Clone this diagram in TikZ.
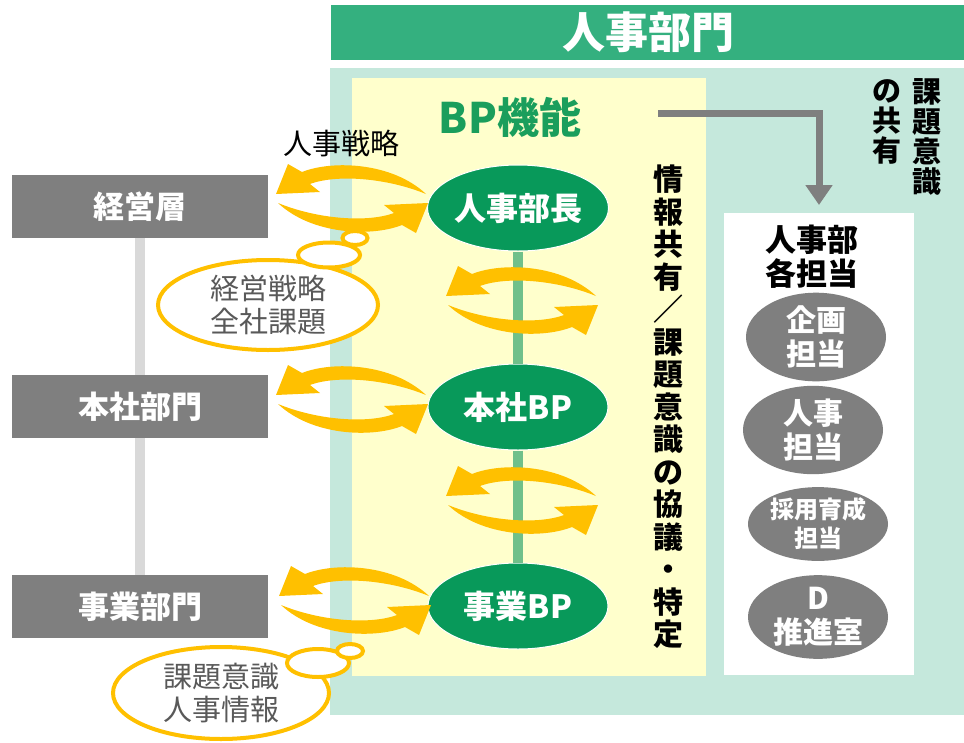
\documentclass[tikz,border=0pt]{standalone}
\usepackage{fontspec}
\setmainfont{Noto Sans CJK JP}
\usetikzlibrary{arrows.meta, positioning, shapes.geometric}
\definecolor{bannergreen}{RGB}{52,176,127}
\definecolor{panelteal}{RGB}{197,232,220}
\definecolor{panelyellow}{RGB}{255,255,204}
\definecolor{bptext}{RGB}{26,158,92}
\definecolor{bpgreen}{RGB}{8,153,90}
\definecolor{linkgreen}{RGB}{112,192,138}
\definecolor{unitgray}{RGB}{127,127,127}
\definecolor{linkgray}{RGB}{217,217,217}
\definecolor{swaporange}{RGB}{255,192,0}
\definecolor{cloudtext}{RGB}{89,89,89}
\tikzset{
    panel/.style = {rectangle, inner sep=0, outer sep=0},
    unit/.style = {rectangle, fill=unitgray, text=white, inner sep=0,
        font=\bfseries\fontsize{31}{34}\selectfont, minimum width=256, minimum height=63},
    bp/.style = {ellipse, fill=bpgreen, draw=white, line width=1, text=white, inner sep=0,
        font=\bfseries\fontsize{32}{36}\selectfont, minimum width=180, minimum height=86},
    staff/.style = {ellipse, fill=unitgray, text=white, inner sep=0, align=center,
        font=\bfseries\fontsize{30}{34}\selectfont, minimum width=140, minimum height=73},
    cloud/.style = {ellipse, draw=swaporange, line width=4, fill=white, inner sep=0},
    vtext/.style = {align=center, inner sep=0, font=\bfseries\fontsize{30}{32.5}\selectfont},
    greenlink/.style = {draw=linkgreen, line width=10},
    graylink/.style = {draw=linkgray, line width=10},
    swaparrows/.pic = {
        \fill[swaporange, yshift=2pt] (74,-2) .. controls (40,-34) and (-20,-36) .. (-50,-24)
            -- (-64,-32) -- (-76,-2) -- (-32,-4) -- (-42,-12)
            .. controls (-15,-22) and (35,-18) .. (74,-2) -- cycle;
        \fill[swaporange, yshift=-3pt, rotate=180] (74,-2) .. controls (40,-34) and (-20,-36) .. (-50,-24)
            -- (-64,-32) -- (-76,-2) -- (-32,-4) -- (-42,-12)
            .. controls (-15,-22) and (35,-18) .. (74,-2) -- cycle;
    }
}

\begin{document}
\begin{tikzpicture}[x=1pt, y=-1pt, >=Latex]
    \useasboundingbox (0,0) rectangle (964,742);
    % Paneles
    \node [panel, fill=panelteal, minimum width=634, minimum height=647] (hrpanel) at (647,391.5) {};
    \node [panel, fill=bannergreen, minimum width=634, minimum height=55, text=white,
        font=\bfseries\fontsize{43}{46}\selectfont] (dept) at (648,32.5) {人事部門};
    \node [panel, fill=panelyellow, minimum width=354, minimum height=598] (bppanel) at (529,377) {};
    \node [panel, fill=white, minimum width=190, minimum height=462] (staffbox) at (819,444) {};
    \node [text=bptext, font=\bfseries\fontsize{42}{46}\selectfont] (bpfunc) at (510,117) {BP機能};
    \node [vtext] (talk) at (668,407) {情\\報\\共\\有\\／\\課\\題\\意\\識\\の\\協\\議\\・\\特\\定};
    \node [vtext, font=\bfseries\fontsize{29}{30}\selectfont] (share) at (927,137) {課\\題\\意\\識};
    \node [vtext, font=\bfseries\fontsize{29}{30}\selectfont] (shareno) at (887,122) {の\\共\\有};
    % Nodos
    \node [unit] (exec) at (140,206.5) {経営層};
    \node [unit] (hq) at (140,406.5) {本社部門};
    \node [unit] (biz) at (140,606.5) {事業部門};
    \node [bp] (head) at (518,208) {人事部長};
    \node [bp] (hqbp) at (518,407) {本社BP};
    \node [bp] (bizbp) at (518,606) {事業BP};
    \node [font=\fontsize{29}{32}\selectfont] (hrstrat) at (341,143) {人事戦略};
    \node [align=center, font=\bfseries\fontsize{31}{34}\selectfont] (stafftitle) at (812,257) {人事部\\各担当};
    \node [staff] (plan) at (816,337) {企画\\担当};
    \node [staff] (hr) at (813,430) {人事\\担当};
    \node [staff, font=\bfseries\fontsize{24}{29}\selectfont] (recruit) at (818,524) {採用育成\\担当};
    \node [staff] (dx) at (818,617) {D\\推進室};
    % Lineas
    \draw [graylink] (exec) -- (hq);
    \draw [graylink] (hq) -- (biz);
    \draw [greenlink] (head) -- (hqbp);
    \draw [greenlink] (hqbp) -- (bizbp);
    \coordinate (bpout) at (658,113);
    \draw [draw=unitgray, line width=7, -{Triangle[width=26pt,length=20pt]}]
        (bpout) -| ([yshift=8pt]staffbox.north);
    % Flechas
    \pic at (352,198) {swaparrows};
    \pic at (352,399) {swaparrows};
    \pic at (355,600) {swaparrows};
    \pic at (522,300) {swaparrows};
    \pic at (522,500) {swaparrows};
    % Nubes
    \node [cloud, minimum width=220, minimum height=90, text=cloudtext, align=center,
        font=\fontsize{29}{33}\selectfont] (strat) at (268,305) {経営戦略\\全社課題};
    \node [cloud, minimum width=62, minimum height=25] (stratpuff) at (329,255) {};
    \node [cloud, minimum width=25, minimum height=14] (stratdot) at (355,238) {};
    \node [cloud, minimum width=216, minimum height=92, text=cloudtext, align=center,
        font=\fontsize{29}{33}\selectfont] (issue) at (221,693) {課題意識\\人事情報};
    \node [cloud, minimum width=62, minimum height=28] (issuepuff) at (318,663) {};
    \node [cloud, minimum width=26, minimum height=14] (issuedot) at (350,651) {};
\end{tikzpicture}
\end{document}
